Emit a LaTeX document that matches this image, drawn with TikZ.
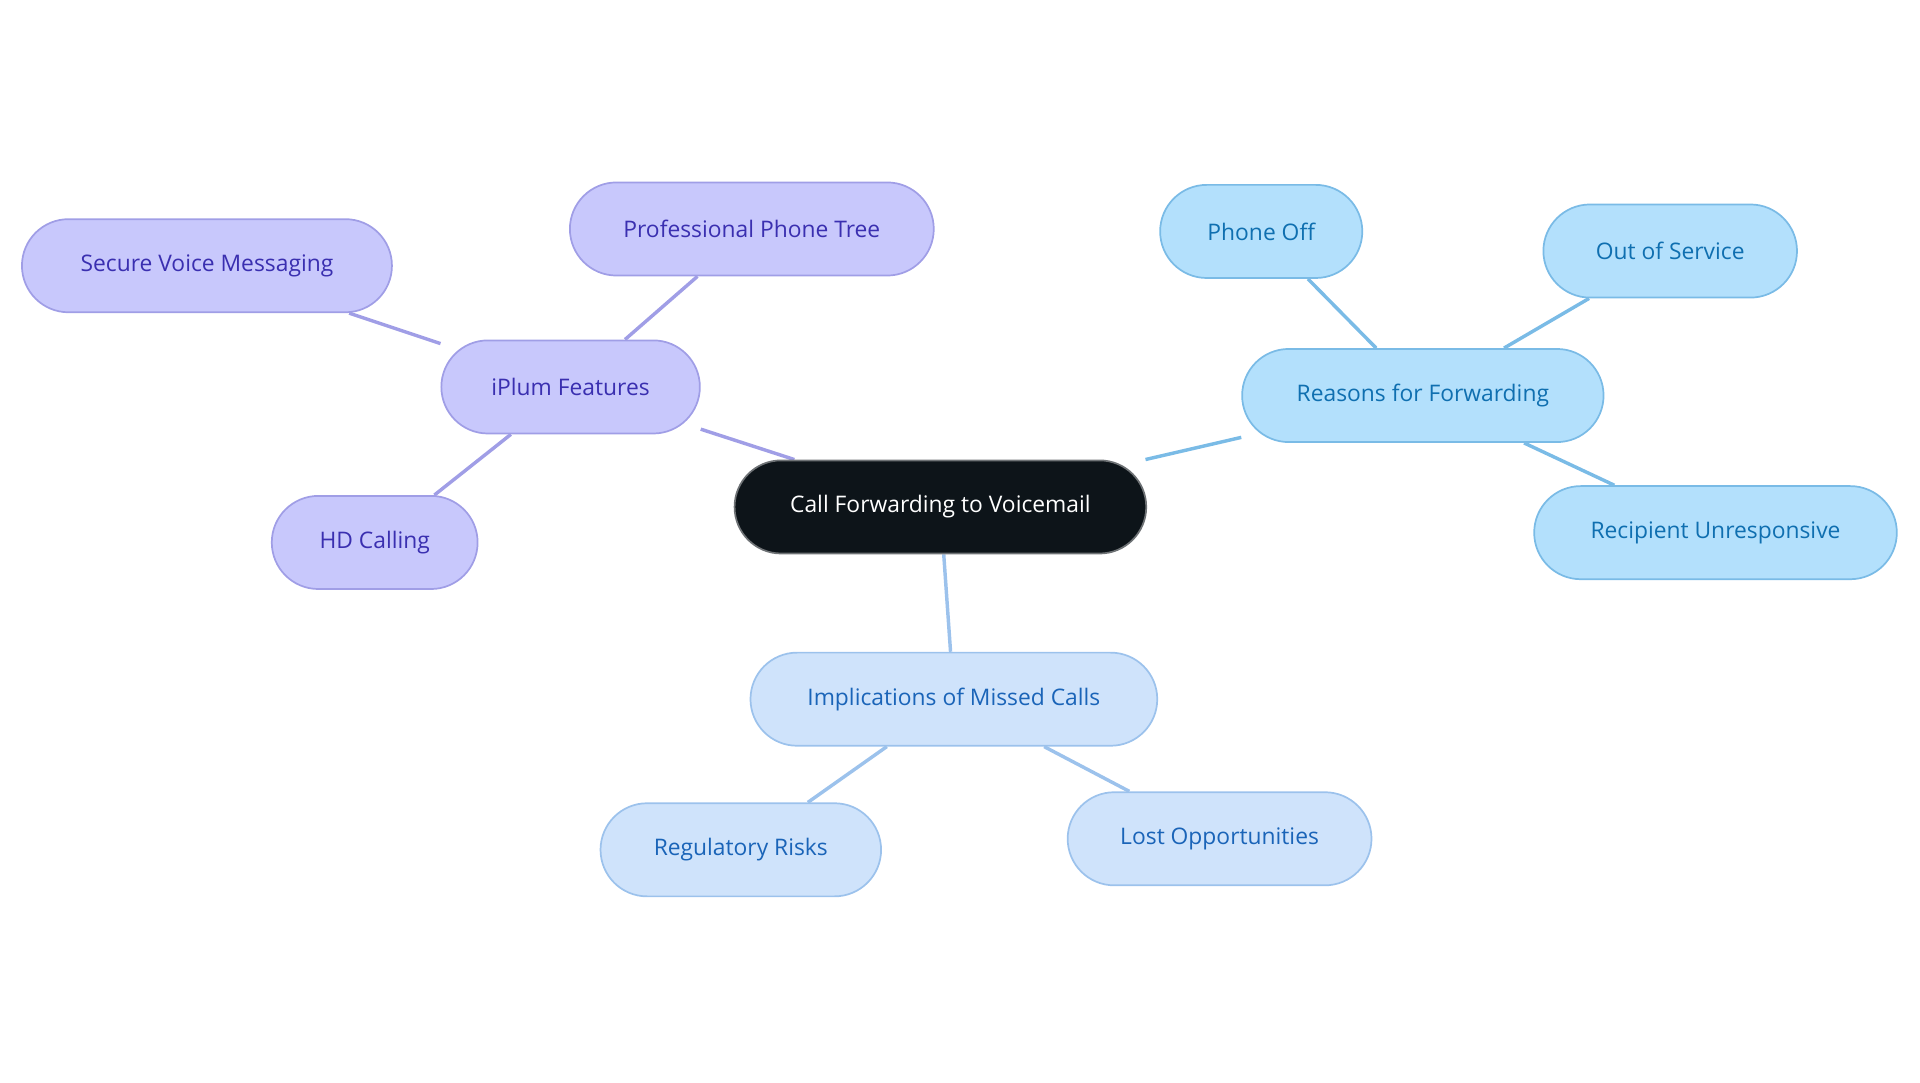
\documentclass[tikz,border=0pt]{standalone}
\usepackage{fontspec}
\setmainfont{Open Sans}
\usetikzlibrary{backgrounds}
\definecolor{rootfill}{HTML}{0D1419}
\definecolor{pfill}{HTML}{C8C8FC}\definecolor{pline}{HTML}{A09EE6}\definecolor{ptext}{HTML}{3A2FB0}
\definecolor{bfill}{HTML}{B3E0FC}\definecolor{bline}{HTML}{7ABBE6}\definecolor{btext}{HTML}{0F6FB0}
\definecolor{lfill}{HTML}{CFE3FB}\definecolor{lline}{HTML}{9CC2EC}\definecolor{ltext}{HTML}{1A64B8}
\begin{document}
\begin{tikzpicture}[x=0.01cm, y=-0.01cm,
    topic/.style={draw, rounded corners=0.38cm, minimum height=0.76cm, inner sep=0pt, font=\fontsize{5.3}{6}\selectfont, line width=0.4pt},
    root/.style={topic, fill=rootfill, draw=rootfill!60, text=white},
    ptopic/.style={topic, fill=pfill, draw=pline, text=ptext},
    btopic/.style={topic, fill=bfill, draw=bline, text=btext},
    ltopic/.style={topic, fill=lfill, draw=lline, text=ltext},
    link/.style={line width=0.8pt}
]
    \useasboundingbox (0,0) rectangle (1568,884);

    % centre
    \node[root, minimum width=3.36cm] (call) at (768,414) {Call Forwarding to Voicemail};

    % iPlum features
    \node[ptopic, minimum width=2.11cm] (feat) at (466,316) {iPlum Features};
    \node[ptopic, minimum width=2.97cm] (tree) at (614,187) {Professional Phone Tree};
    \node[ptopic, minimum width=3.02cm] (secure) at (169,217) {Secure Voice Messaging};
    \node[ptopic, minimum width=1.68cm] (hd) at (306,443) {HD Calling};

    % reasons
    \node[btopic, minimum width=2.95cm] (reason) at (1162,323) {Reasons for Forwarding};
    \node[btopic, minimum width=1.65cm] (off) at (1030,189) {Phone Off};
    \node[btopic, minimum width=2.07cm] (service) at (1364,205) {Out of Service};
    \node[btopic, minimum width=2.96cm] (unresp) at (1401,435) {Recipient Unresponsive};

    % implications
    \node[ltopic, minimum width=3.32cm] (impl) at (779,571) {Implications of Missed Calls};
    \node[ltopic, minimum width=2.29cm] (risk) at (605,694) {Regulatory Risks};
    \node[ltopic, minimum width=2.48cm] (lost) at (996,685) {Lost Opportunities};

    \begin{scope}[on background layer]
        \draw[link, pline] (call) -- (feat);
        \foreach \t in {tree, secure, hd} \draw[link, pline] (feat) -- (\t);
        \draw[link, bline] (call) -- (reason);
        \foreach \t in {off, service, unresp} \draw[link, bline] (reason) -- (\t);
        \draw[link, lline] (call) -- (impl);
        \foreach \t in {risk, lost} \draw[link, lline] (impl) -- (\t);
    \end{scope}
\end{tikzpicture}
\end{document}
